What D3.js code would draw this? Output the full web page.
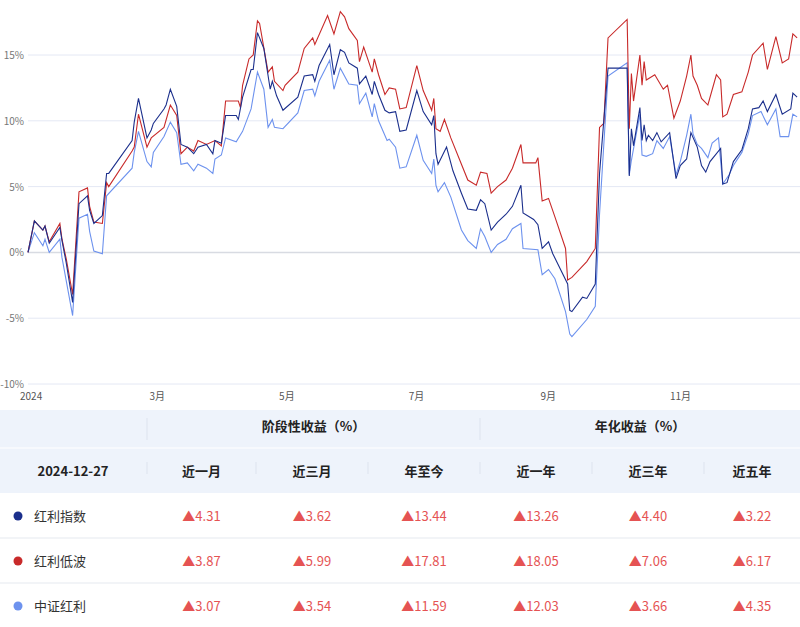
<!DOCTYPE html>
<html><head><meta charset="utf-8">
<script src="https://cdn.jsdelivr.net/npm/d3@7"></script>
<style>
body{margin:0;background:#fff;font-family:"Noto Sans CJK SC","Noto Sans",sans-serif}
</style></head>
<body><svg id="c" width="800" height="627"></svg>
<script>
// series: [day of 2024, return %]
const hongliIndex = [[0,0],[3,2.4],[7,1.7],[8,2.0],[10,0.7],[15,1.9],[16,0.9],[18,-0.8],[21,-3.8],[24,3.7],[28,4.3],[29,3.2],[31,2.2],[35,2.8],[37,6.0],[38,6.0],[49,8.5],[50,9.9],[52,11.7],[56,8.7],[58,9.3],[59,9.8],[64,10.9],[65,11.2],[67,12.4],[70,11.1],[72,8.2],[75,8.0],[78,7.5],[80,8.0],[84,8.2],[87,7.5],[88,8.5],[91,8.3],[93,10.4],[98,10.4],[99,10.1],[101,11.8],[105,13.9],[106,13.9],[108,16.7],[111,15.5],[114,12.4],[115,13.0],[117,11.9],[120,10.8],[127,11.8],[130,13.4],[134,13.5],[135,13.0],[137,14.2],[142,15.8],[144,13.5],[147,15.4],[149,15.2],[151,14.4],[155,14.0],[156,12.8],[159,13.4],[162,12.0],[163,13.0],[165,12.0],[168,10.8],[170,10.6],[173,10.7],[175,9.2],[178,9.3],[183,12.3],[186,10.7],[190,9.7],[191,10.4],[192,7.5],[193,6.7],[197,8.0],[200,6.2],[204,4.5],[207,3.3],[211,3.2],[213,4.0],[215,3.7],[218,1.7],[221,2.3],[225,2.9],[228,3.5],[232,5.1],[233,3.0],[238,2.5],[240,2.1],[242,0.3],[245,0.8],[247,-0.1],[254,-2.4],[255,-4.4],[256,-4.5],[261,-3.4],[263,-3.5],[267,-2.4],[269,6.0],[273,14.0],[282,14.0],[283,5.8],[284,9.4],[285,8.1],[288,11.0],[289,8.5],[290,9.7],[291,8.5],[292,8.9],[294,8.5],[296,9.1],[298,8.4],[302,9.1],[305,5.6],[307,6.6],[310,7.1],[312,9.1],[315,8.0],[317,6.6],[319,6.1],[321,6.9],[326,7.9],[327,5.2],[329,5.3],[332,6.9],[336,7.8],[339,9.4],[341,10.9],[344,11.0],[346,11.5],[348,10.7],[352,12.0],[355,10.5],[359,10.9],[360,12.1],[362,11.8]];
const lowVol = [[0,0],[3,2.4],[7,1.7],[8,2.0],[10,0.8],[15,2.2],[16,1.0],[18,-0.5],[21,-3.2],[24,4.6],[28,4.9],[29,3.5],[31,2.3],[35,2.2],[37,5.3],[38,5.0],[49,7.7],[50,8.0],[52,10.5],[56,8.0],[58,8.7],[64,9.5],[67,11.2],[70,10.4],[72,7.5],[75,8.0],[78,7.7],[80,8.5],[84,8.2],[88,8.5],[91,8.1],[93,11.5],[99,11.5],[100,11.0],[101,12.7],[104,14.7],[106,15.0],[108,17.6],[109,17.4],[113,13.7],[115,14.1],[116,13.0],[120,12.3],[121,12.7],[127,13.7],[130,15.5],[134,16.3],[135,15.8],[141,18.0],[144,16.6],[147,18.3],[149,17.9],[151,17.0],[155,16.1],[156,14.5],[158,15.6],[162,13.7],[163,14.7],[165,13.5],[168,12.0],[170,12.5],[173,12.4],[175,10.9],[178,11.0],[183,14.2],[186,12.3],[190,10.8],[191,11.7],[192,9.4],[194,9.2],[196,10.1],[199,8.7],[204,6.7],[207,5.5],[211,5.1],[213,6.1],[216,6.0],[218,4.5],[221,5.0],[225,5.5],[228,6.4],[232,8.2],[233,6.8],[239,6.8],[240,7.2],[242,3.9],[245,4.1],[248,2.7],[253,0.3],[254,-2.1],[256,-1.9],[263,-0.7],[267,0.3],[269,9.5],[271,9.8],[273,16.3],[282,17.7],[283,9.4],[284,13.6],[285,11.5],[288,15.0],[289,12.7],[290,14.5],[291,13.1],[295,13.5],[299,12.4],[301,12.7],[304,10.2],[307,11.5],[310,13.4],[312,15.0],[313,13.4],[315,12.7],[317,11.7],[320,11.2],[324,13.5],[326,13.1],[327,10.3],[329,10.5],[332,12.0],[336,12.2],[339,13.7],[341,15.0],[346,15.9],[348,13.9],[352,16.4],[355,14.4],[358,14.7],[360,16.6],[362,16.3]];
const csiDiv = [[0,0],[3,1.5],[7,0.5],[8,1.0],[10,0],[15,1.0],[16,-0.4],[21,-4.8],[24,2.6],[28,2.9],[29,1.6],[31,0.1],[35,-0.1],[37,4.3],[49,6.4],[50,7.6],[52,9.2],[56,6.9],[58,6.5],[59,7.6],[64,8.8],[67,9.9],[70,9.1],[72,6.7],[75,6.8],[78,6.2],[80,6.7],[84,6.4],[87,6.0],[88,7.1],[91,7.4],[93,8.7],[98,8.4],[101,9.2],[105,10.9],[108,13.7],[111,12.4],[113,9.5],[115,10.1],[116,9.5],[120,9.4],[127,10.6],[130,12.3],[134,12.4],[135,11.9],[137,13.0],[142,14.6],[144,12.4],[147,14.0],[151,12.8],[155,12.7],[156,11.3],[159,12.1],[162,10.3],[163,11.3],[165,10.0],[169,8.5],[170,8.6],[173,8.0],[175,6.4],[178,6.5],[183,8.9],[186,7.0],[190,6.0],[191,7.1],[192,5.1],[193,4.6],[196,5.3],[199,4.2],[204,1.7],[207,0.9],[211,0.3],[213,1.8],[215,1.2],[218,0],[221,0.6],[225,1.0],[228,1.8],[232,2.2],[233,0.3],[240,0.2],[242,-1.7],[245,-1.3],[248,-2.0],[253,-4.5],[255,-6.2],[256,-6.4],[263,-5.1],[267,-4.1],[269,2.9],[273,13.4],[282,14.4],[283,5.9],[284,7.0],[288,10.5],[289,7.4],[291,7.3],[294,7.5],[296,8.5],[299,7.9],[302,8.8],[305,5.9],[307,6.9],[310,8.9],[312,10.5],[313,9.0],[315,8.2],[317,7.9],[320,7.2],[322,8.3],[325,8.7],[327,5.2],[330,5.9],[332,6.6],[336,7.6],[339,9.0],[341,10.4],[345,10.7],[348,9.7],[352,10.9],[354,8.8],[358,8.8],[360,10.5],[362,10.3]];

const yTicks = [-10,-5,0,5,10,15];
const xTickDays = [0,60,121,182,244,305];
const xTickLabels = ["2024","3月","5月","7月","9月","11月"];

const names = ["红利指数","红利低波","中证红利"];
const colors = ["#1b2f8c","#c82a2a","#6d92ee"];
const groupHeads = ["阶段性收益（%）","年化收益（%）"];
const dateLabel = "2024-12-27";
const colHeads = ["近一月","近三月","年至今","近一年","近三年","近五年"];
const tableVals = [
  [4.31,3.62,13.44,13.26,4.40,3.22],
  [3.87,5.99,17.81,18.05,7.06,6.17],
  [3.07,3.54,11.59,12.03,3.66,4.35]
];

const svg = d3.select("#c");
const x = d3.scaleLinear().domain([0,361]).range([28,795]);
const y = d3.scaleLinear().domain([-10,15]).range([384,55]);

// grid
svg.selectAll("line.grid").data(yTicks).join("line")
  .attr("x1",28).attr("x2",800).attr("y1",d=>y(d)).attr("y2",d=>y(d))
  .attr("stroke",d=>d===0?"#d8dbe2":"#e4e8f4").attr("stroke-width",d=>d===0?1.5:1);
svg.selectAll("text.yt").data(yTicks).join("text")
  .attr("x",24).attr("y",d=>y(d)+4).attr("text-anchor","end")
  .attr("font-size",10).attr("fill","#777").text(d=>d+"%");
svg.selectAll("text.xt").data(xTickDays).join("text")
  .attr("x",(d,i)=>x(d)+(i===0?-8:-6)).attr("y",400)
  .attr("font-size",10).attr("fill","#555").text((d,i)=>xTickLabels[i]);

const line = d3.line().x(d=>x(d[0])).y(d=>y(d[1]));
[csiDiv,lowVol,hongliIndex].forEach((s,i)=>{
  svg.append("path").datum(s).attr("d",line).attr("fill","none")
    .attr("stroke",[colors[2],colors[1],colors[0]][i]).attr("stroke-width",1.1);
});

// table
const colX = [0,147,256,368,480,592,704,800];
svg.append("rect").attr("x",0).attr("y",410).attr("width",800).attr("height",83).attr("fill","#eef3fb");
svg.append("line").attr("x1",0).attr("x2",800).attr("y1",448).attr("y2",448).attr("stroke","#f7f9fd").attr("stroke-width",2);
[147,480].forEach(v=>svg.append("line").attr("x1",v).attr("x2",v).attr("y1",418).attr("y2",440).attr("stroke","#dde3ee"));
[147,256,368,480,592,704].forEach(v=>svg.append("line").attr("x1",v).attr("x2",v).attr("y1",462).attr("y2",474).attr("stroke","#dde3ee"));
svg.selectAll("text.gh").data(groupHeads).join("text")
  .attr("x",(d,i)=>i===0?(colX[1]+colX[4])/2:(colX[4]+colX[7])/2).attr("y",431)
  .attr("text-anchor","middle").attr("font-size",13).attr("font-weight","bold").attr("fill","#222").text(d=>d);
svg.append("text").attr("x",73).attr("y",476).attr("text-anchor","middle")
  .attr("font-size",13).attr("font-weight","bold").attr("fill","#222").text(dateLabel);
svg.selectAll("text.ch").data(colHeads).join("text")
  .attr("x",(d,i)=>(colX[i+1]+colX[i+2])/2).attr("y",476).attr("text-anchor","middle")
  .attr("font-size",13).attr("font-weight","bold").attr("fill","#222").text(d=>d);

const rowY = [516,561,606];
[538,583].forEach(v=>svg.append("line").attr("x1",0).attr("x2",800).attr("y1",v).attr("y2",v).attr("stroke","#eef0f4").attr("stroke-width",1.5));
names.forEach((n,r)=>{
  svg.append("circle").attr("cx",18).attr("cy",rowY[r]).attr("r",4.5).attr("fill",colors[r]);
  svg.append("text").attr("x",34).attr("y",rowY[r]+5).attr("font-size",13).attr("fill","#333").text(n);
  svg.selectAll(null).data(tableVals[r]).join("text")
    .attr("x",(d,i)=>(colX[i+1]+colX[i+2])/2).attr("y",rowY[r]+5).attr("text-anchor","middle")
    .attr("font-size",13).attr("fill","#e55353").text(d=>"▲"+d.toFixed(2));
});
</script></body></html>
